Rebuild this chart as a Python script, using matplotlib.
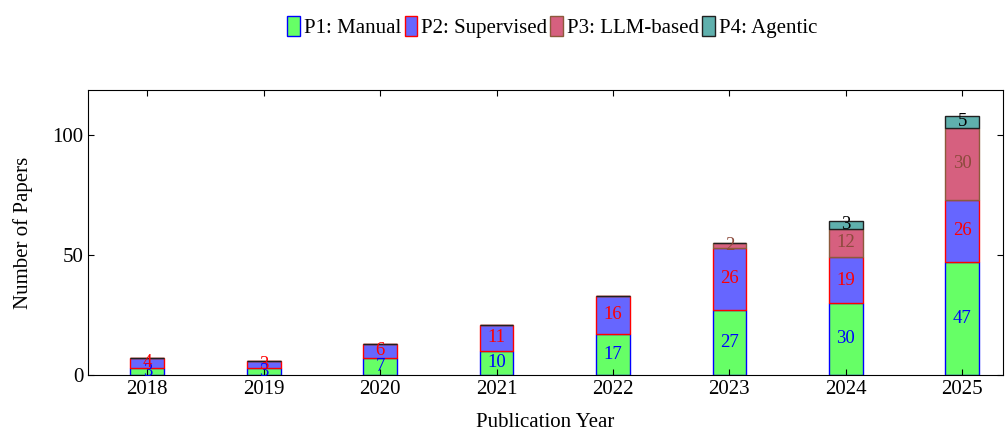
import matplotlib.pyplot as plt
import numpy as np
from matplotlib.patches import Patch

plt.rcParams['font.family'] = ['Liberation Serif', 'DejaVu Serif']

years = [2018, 2019, 2020, 2021, 2022, 2023, 2024, 2025]
p1 = [3, 3, 7, 10, 17, 27, 30, 47]
p2 = [4, 3, 6, 11, 16, 26, 19, 26]
p3 = [0, 0, 0, 0, 0, 2, 12, 30]
p4 = [0, 0, 0, 0, 0, 0, 3, 5]
names = ['P1: Manual', 'P2: Supervised', 'P3: LLM-based', 'P4: Agentic']

fills = ['#66ff66', '#6666ff', '#d6607f', '#5fb0ad']
edges = ['#0000ff', '#ff0000', '#8c5a3c', '#202020']
txtc = ['#0000ff', '#ff0000', '#8c4a3c', '#000000']

fig = plt.figure(figsize=(10.08, 4.30), dpi=100)
ax = fig.add_axes([0.0873, 0.128, 0.9077, 0.663])

x = np.array(years)
bottom = np.zeros(len(years))
for vals, fc, ec, tc in zip([p1, p2, p3, p4], fills, edges, txtc):
    v = np.array(vals, dtype=float)
    ax.bar(x, v, 0.29, bottom=bottom, color=fc, edgecolor=ec, linewidth=1.0)
    for xi, b, h in zip(x, bottom, v):
        if h > 0:
            ax.text(xi, b + h / 2, str(int(h)), ha='center', va='center',
                    color=tc, fontsize=13.5)
    bottom += v

ax.set_xlim(2017.49, 2025.35)
ax.set_ylim(0, 118.8)
ax.set_xticks(years)
ax.set_yticks([0, 50, 100])
ax.tick_params(direction='in', top=True, right=True, labelsize=15, length=4)
ax.set_xlabel('Publication Year', fontsize=15, labelpad=10)
ax.set_ylabel('Number of Papers', fontsize=15, labelpad=14)

handles = [Patch(facecolor=f, edgecolor=e) for f, e in zip(fills, edges)]
fig.legend(handles, names, loc='center', bbox_to_anchor=(0.548, 0.937), ncol=4,
           frameon=False, fontsize=15, handlelength=0.6, handleheight=1.1,
           handletextpad=0.2, columnspacing=0.15)

fig.savefig('out.png', dpi=100)
